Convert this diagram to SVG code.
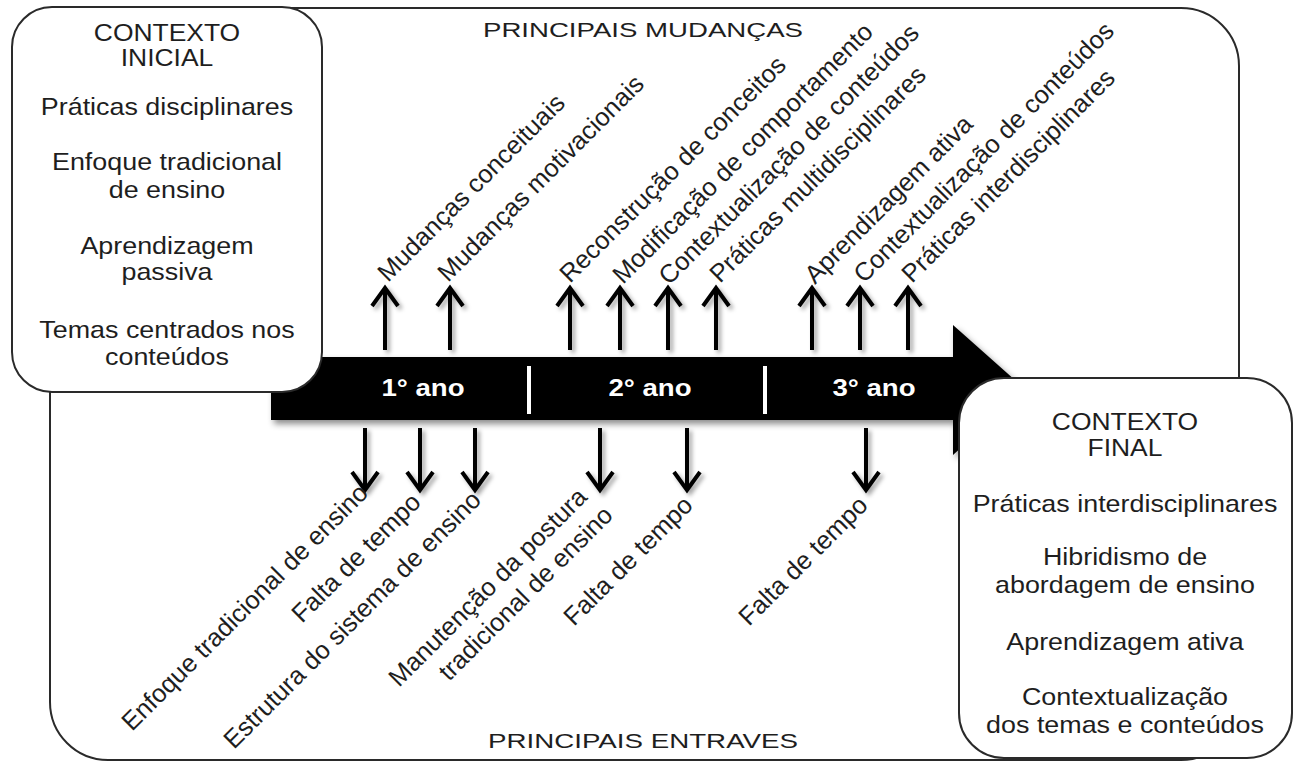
<svg xmlns="http://www.w3.org/2000/svg" width="1300" height="763" viewBox="0 0 1300 763">
<style>
.box{fill:#fff;stroke:#2a2a2a;stroke-width:2}
.t{font-family:"Liberation Sans",Arial,sans-serif;font-size:24px;fill:#1e1e1e;text-anchor:middle}
.h{font-family:"Liberation Sans",Arial,sans-serif;font-size:23px;fill:#1e1e1e;text-anchor:middle}
.r{font-family:"Liberation Sans",Arial,sans-serif;font-size:25.5px;fill:#1e1e1e}
.title{font-family:"Liberation Sans",Arial,sans-serif;font-size:21px;fill:#1e1e1e;text-anchor:middle}
.yr{font-family:"Liberation Sans",Arial,sans-serif;font-size:23px;font-weight:bold;fill:#fff;text-anchor:middle}
.arw{fill:none;stroke:#000;stroke-width:4;stroke-linecap:butt;stroke-linejoin:miter}
</style>
<defs>
<filter id="sh" x="-20%" y="-20%" width="140%" height="140%">
<feDropShadow dx="3" dy="4" stdDeviation="3" flood-color="#000" flood-opacity="0.45"/>
</filter>
<filter id="sh2" x="-50%" y="-20%" width="200%" height="140%">
<feDropShadow dx="3" dy="3" stdDeviation="2" flood-color="#000" flood-opacity="0.35"/>
</filter>
</defs>
<rect width="1300" height="763" fill="#fff"/>
<g id="frame">
<rect x="50" y="8" width="1189" height="752" rx="58" ry="58" fill="#fff" stroke="#2a2a2a" stroke-width="2"/>
</g>
<g id="timeline">
<path d="M271,357 H953 V325 L1025,389 L953,455 V420 H271 Z" fill="#000" filter="url(#sh)"/>
<rect x="527" y="366" width="4" height="48" fill="#fff"/>
<rect x="763" y="366" width="4" height="48" fill="#fff"/>
<text class="yr" transform="translate(423,396) scale(1.2,1)">1° ano</text>
<text class="yr" transform="translate(650,396) scale(1.2,1)">2° ano</text>
<text class="yr" transform="translate(874,396) scale(1.2,1)">3° ano</text>
</g>
<g id="contexto-inicial">
<rect class="box" x="12" y="7" width="310" height="385" rx="40" ry="40"/>
<text class="h" transform="translate(167,41) scale(1.15,1)">CONTEXTO</text>
<text class="h" transform="translate(167,66) scale(1.15,1)">INICIAL</text>
<text class="t" transform="translate(167,115) scale(1.12,1)">Práticas disciplinares</text>
<text class="t" transform="translate(167,170) scale(1.12,1)">Enfoque tradicional</text>
<text class="t" transform="translate(167,198) scale(1.12,1)">de ensino</text>
<text class="t" transform="translate(167,254) scale(1.12,1)">Aprendizagem</text>
<text class="t" transform="translate(167,280) scale(1.12,1)">passiva</text>
<text class="t" transform="translate(167,338) scale(1.12,1)">Temas centrados nos</text>
<text class="t" transform="translate(167,365) scale(1.12,1)">conteúdos</text>
</g>
<g id="contexto-final">
<rect class="box" x="959" y="378" width="333" height="380" rx="45" ry="45"/>
<text class="h" transform="translate(1125,430) scale(1.15,1)">CONTEXTO</text>
<text class="h" transform="translate(1125,456) scale(1.15,1)">FINAL</text>
<text class="t" transform="translate(1125,512) scale(1.12,1)">Práticas interdisciplinares</text>
<text class="t" transform="translate(1125,565) scale(1.12,1)">Hibridismo de</text>
<text class="t" transform="translate(1125,593) scale(1.12,1)">abordagem de ensino</text>
<text class="t" transform="translate(1125,650) scale(1.12,1)">Aprendizagem ativa</text>
<text class="t" transform="translate(1125,705) scale(1.12,1)">Contextualização</text>
<text class="t" transform="translate(1125,733) scale(1.12,1)">dos temas e conteúdos</text>
</g>
<g id="titles">
<text class="title" x="643" y="37" textLength="320" lengthAdjust="spacingAndGlyphs">PRINCIPAIS MUDANÇAS</text>
<text class="title" x="643" y="748" textLength="310" lengthAdjust="spacingAndGlyphs">PRINCIPAIS ENTRAVES</text>
</g>
<g id="connectors" filter="url(#sh2)">
<path class="arw" d="M385,350 V288 M372,306 L385,288 L398,306"/>
<path class="arw" d="M450,350 V288 M437,306 L450,288 L463,306"/>
<path class="arw" d="M570,350 V288 M557,306 L570,288 L583,306"/>
<path class="arw" d="M620,350 V288 M607,306 L620,288 L633,306"/>
<path class="arw" d="M668,350 V288 M655,306 L668,288 L681,306"/>
<path class="arw" d="M716,350 V288 M703,306 L716,288 L729,306"/>
<path class="arw" d="M812,350 V288 M799,306 L812,288 L825,306"/>
<path class="arw" d="M860,350 V288 M847,306 L860,288 L873,306"/>
<path class="arw" d="M908,350 V288 M895,306 L908,288 L921,306"/>
<path class="arw" d="M365,428 V490 M352,472 L365,490 L378,472"/>
<path class="arw" d="M420,428 V490 M407,472 L420,490 L433,472"/>
<path class="arw" d="M475,428 V490 M462,472 L475,490 L488,472"/>
<path class="arw" d="M600,428 V490 M587,472 L600,490 L613,472"/>
<path class="arw" d="M687,428 V490 M674,472 L687,490 L700,472"/>
<path class="arw" d="M866,428 V490 M853,472 L866,490 L879,472"/>
</g>
<g id="mudancas">
<text class="r" transform="translate(388,283) rotate(-45)">Mudanças conceituais</text>
<text class="r" transform="translate(448,283) rotate(-45)">Mudanças motivacionais</text>
<text class="r" transform="translate(570,284) rotate(-45)">Reconstrução de conceitos</text>
<text class="r" transform="translate(623,285) rotate(-45)">Modificação de comportamento</text>
<text class="r" transform="translate(669,286) rotate(-45)">Contextualização de conteúdos</text>
<text class="r" transform="translate(720,284) rotate(-45)">Práticas multidisciplinares</text>
<text class="r" transform="translate(815,285) rotate(-45)">Aprendizagem ativa</text>
<text class="r" transform="translate(864,284) rotate(-45)">Contextualização de conteúdos</text>
<text class="r" transform="translate(912,284) rotate(-45)">Práticas interdisciplinares</text>
</g>
<g id="entraves">
<text class="r" transform="translate(132,732) rotate(-45)">Enfoque tradicional de ensino</text>
<text class="r" transform="translate(302,624) rotate(-45)">Falta de tempo</text>
<text class="r" transform="translate(234,750) rotate(-45)">Estrutura do sistema de ensino</text>
<text class="r" transform="translate(399,688) rotate(-45)">Manutenção da postura</text>
<text class="r" transform="translate(449,682) rotate(-45)">tradicional de ensino</text>
<text class="r" transform="translate(574,627) rotate(-45)">Falta de tempo</text>
<text class="r" transform="translate(749,627) rotate(-45)">Falta de tempo</text>
</g>
</svg>
